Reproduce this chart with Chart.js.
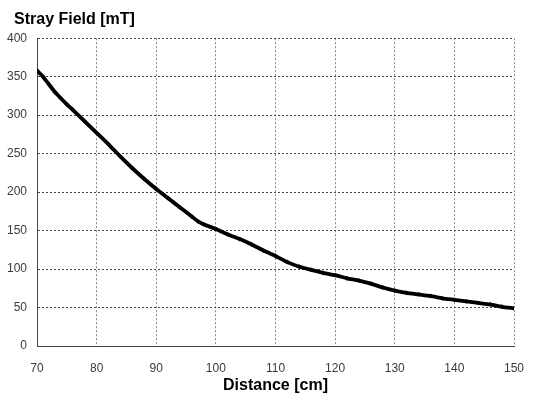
<!DOCTYPE html>
<html>
<head>
<meta charset="utf-8">
<script src="https://cdn.jsdelivr.net/npm/chart.js@4/dist/chart.umd.min.js"></script>
<style>
  html, body { margin: 0; padding: 0; background: #fff; }
  #wrap { width: 533px; height: 399px; }
</style>
</head>
<body>
<div id="wrap"><canvas id="c" width="533" height="399"></canvas></div>
<script>
const distances = [70, 71, 72, 73, 74, 75, 76, 78, 80, 82, 84, 86, 88, 90, 92, 94, 96, 97, 98, 100,
  102, 104, 106, 108, 110, 112, 114, 116, 118, 120, 122, 124, 126, 128, 130, 132, 134, 136, 138, 140,
  142, 144, 146, 148, 150];
const strayField = [358, 350, 340, 330, 322, 314, 307, 292, 277, 262, 246, 231, 217, 204, 192, 180, 168, 162, 158, 152,
  145, 139, 132, 124, 117, 109, 103, 99, 95, 92, 88, 85, 81, 76, 72, 69, 67, 65, 62, 60,
  58, 56, 54, 51, 49];
const yTitle = 'Stray Field [mT]';
const xTitle = 'Distance [cm]';

const points = distances.map((d, i) => ({ x: d, y: strayField[i] }));
const FONT = "'Liberation Sans', Arial, sans-serif";

const titleShift = {
  id: 'titleShift',
  afterLayout(chart) {
    if (chart.titleBlock) { chart.titleBlock.left = 14; }
  }
};

new Chart(document.getElementById('c'), {
  type: 'line',
  data: {
    datasets: [{
      data: points,
      borderColor: '#000',
      backgroundColor: '#000',
      borderWidth: 3.8,
      pointStyle: 'rectRot',
      pointRadius: 2.4,
      pointBorderWidth: 0,
      pointBackgroundColor: '#000',
      tension: 0.2,
      fill: false
    }]
  },
  plugins: [titleShift],
  options: {
    responsive: false,
    animation: false,
    events: [],
    layout: { padding: { left: 2, right: 19, top: 0, bottom: 2 } },
    plugins: {
      legend: { display: false },
      tooltip: { enabled: false },
      title: {
        display: true,
        text: yTitle,
        align: 'start',
        color: '#000',
        font: { family: FONT, size: 16, weight: 'bold' },
        padding: { top: 10, bottom: 9 }
      }
    },
    scales: {
      x: {
        type: 'linear',
        min: 70,
        max: 150,
        ticks: { stepSize: 10, color: '#3a3a3a', font: { family: FONT, size: 12, lineHeight: 1 }, padding: 17, maxRotation: 0 },
        grid: { color: '#8a8a8a', lineWidth: 1, drawTicks: false },
        border: { display: true, color: '#444', width: 1, dash: [2, 2] },
        title: {
          display: true,
          text: xTitle,
          color: '#000',
          font: { family: FONT, size: 16, weight: 'bold', lineHeight: 1 },
          padding: { top: 0, bottom: 3 }
        },
        afterFit: (scale) => { scale.height = 51; scale.paddingLeft = 0; scale.paddingRight = 0; }
      },
      y: {
        min: 0,
        max: 400,
        ticks: { stepSize: 50, color: '#3a3a3a', font: { family: FONT, size: 12 }, padding: 10 },
        grid: { color: '#444', lineWidth: 1, drawTicks: false },
        border: { display: true, color: '#444', width: 1, dash: [2, 2] },
        afterFit: (scale) => { scale.width = 35; }
      }
    }
  }
});
</script>
</body>
</html>
